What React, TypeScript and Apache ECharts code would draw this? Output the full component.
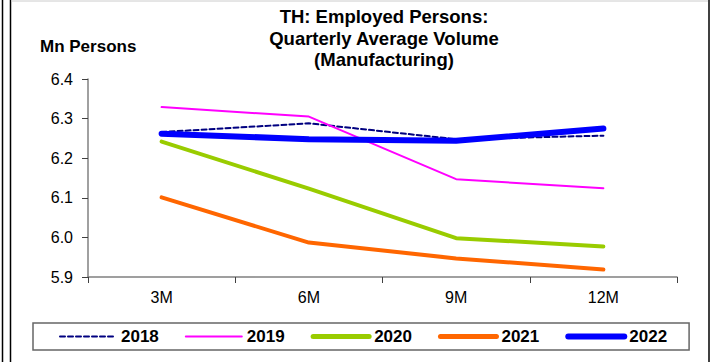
import React, { useEffect, useRef } from "react";
import * as echarts from "echarts";

const categories = ["3M", "6M", "9M", "12M"];
const s2018 = [6.266, 6.288, 6.248, 6.257];
const s2019 = [6.329, 6.305, 6.147, 6.124];
const s2020 = [6.242, 6.123, 5.998, 5.977];
const s2021 = [6.101, 5.987, 5.947, 5.919];
const s2022 = [6.262, 6.248, 6.244, 6.275];
const yTicks = { min: 5.9, max: 6.4, interval: 0.1 };

const FONT = "'Liberation Sans', Arial, sans-serif";

export default function App() {
  const ref = useRef<HTMLDivElement>(null);
  useEffect(() => {
    document.body.style.margin = "0";
    const chart = echarts.init(ref.current!, null, { renderer: "svg" });
    const mk = (name: string, data: number[], color: string, width: number, type: any = "solid") => ({
      name,
      type: "line",
      data,
      symbol: "none",
      lineStyle: { color, width, type, cap: "round", join: "round" },
      itemStyle: { color },
    });
    chart.setOption({
      animation: false,
      backgroundColor: "#ffffff",
      grid: { left: 88, right: 35, top: 79, bottom: 85, containLabel: false },
      xAxis: {
        type: "category",
        data: categories,
        boundaryGap: true,
        axisLine: { lineStyle: { color: "#808080", width: 1.5 } },
        axisTick: { show: true, length: 6, inside: false, lineStyle: { color: "#404040" } },
        axisLabel: { color: "#000", fontSize: 16, fontFamily: FONT, margin: 12 },
        splitLine: { show: false },
      },
      yAxis: {
        type: "value",
        min: yTicks.min,
        max: yTicks.max,
        interval: yTicks.interval,
        axisLine: { show: true, lineStyle: { color: "#808080", width: 1.5 } },
        axisTick: { show: true, length: 6, lineStyle: { color: "#404040" } },
        axisLabel: {
          color: "#000",
          fontSize: 16,
          fontFamily: FONT,
          margin: 15,
          formatter: (v: number) => v.toFixed(1),
        },
        splitLine: { show: false },
      },
      legend: {
        data: [
          { name: "2018", lineStyle: { width: 2 } },
          { name: "2019", lineStyle: { width: 2 } },
          { name: "2020", lineStyle: { width: 5 } },
          { name: "2021", lineStyle: { width: 5 } },
          { name: "2022", lineStyle: { width: 6 } },
        ],
        left: 33,
        top: 323,
        orient: "horizontal",
        itemWidth: 56,
        itemHeight: 12,
        itemGap: 26,
        padding: [5, 22, 5, 26],
        borderColor: "#666",
        borderWidth: 1.5,
        itemStyle: { opacity: 0 },
        textStyle: { color: "#000", fontSize: 17, fontWeight: "bold", fontFamily: FONT, padding: [0, 0, 0, 0] },
      },
      graphic: [
        {
          type: "text",
          style: {
            text: "TH: Employed Persons:\nQuarterly Average Volume\n(Manufacturing)",
            x: 384,
            y: 6,
            align: "center",
            verticalAlign: "top",
            fill: "#000",
            fontSize: 18.5,
            fontWeight: "bold",
            fontFamily: FONT,
            lineHeight: 21.5,
          },
        },
        {
          type: "text",
          style: {
            text: "Mn Persons",
            x: 40,
            y: 38,
            fill: "#000",
            fontSize: 17,
            fontWeight: "bold",
            fontFamily: FONT,
          },
        },
        { type: "line", shape: { x1: 2.5, y1: 0, x2: 2.5, y2: 362 }, style: { stroke: "#000", lineWidth: 1.5 } },
        { type: "line", shape: { x1: 10.5, y1: 0, x2: 10.5, y2: 362 }, style: { stroke: "#000", lineWidth: 1.5 } },
        { type: "line", shape: { x1: 11, y1: 1, x2: 708, y2: 1 }, style: { stroke: "#ccc", lineWidth: 1 } },
        { type: "line", shape: { x1: 709, y1: 0, x2: 709, y2: 362 }, style: { stroke: "#000", lineWidth: 1.5 } },
      ],
      series: [
        mk("2018", s2018, "#000080", 2, [5, 3]),
        mk("2019", s2019, "#FF00FF", 2),
        mk("2020", s2020, "#99CC00", 4),
        mk("2021", s2021, "#FF6600", 4),
        mk("2022", s2022, "#0000FF", 6),
      ],
    });
    return () => chart.dispose();
  }, []);
  return <div ref={ref} style={{ width: 712, height: 362 }} />;
}
